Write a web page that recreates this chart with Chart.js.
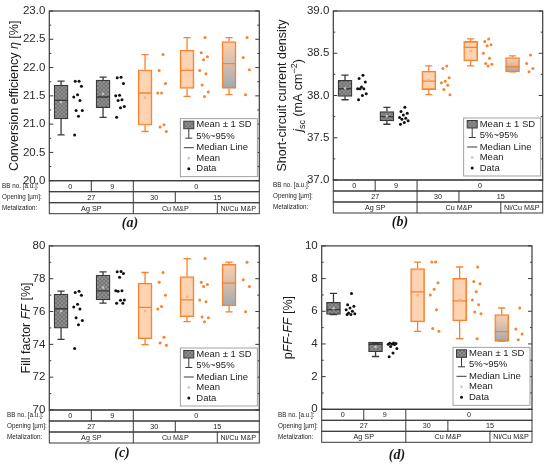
<!DOCTYPE html>
<html>
<head>
<meta charset="utf-8">
<script src="https://cdn.jsdelivr.net/npm/chart.js@4.4.0/dist/chart.umd.min.js"></script>
<style>
  body { margin: 0; background: #fff; width: 553px; height: 469px; position: relative; overflow: hidden; }
  canvas { position: absolute; }
</style>
</head>
<body>
<canvas id="chartA" style="left:0;top:0" width="276" height="235"></canvas>
<canvas id="chartB" style="left:270px;top:0" width="283" height="235"></canvas>
<canvas id="chartC" style="left:0;top:235px" width="276" height="234"></canvas>
<canvas id="chartD" style="left:276px;top:235px" width="277" height="234"></canvas>
<script>
// groups, left to right: Ag SP BB0, Ag SP BB9, Cu M&P 30 µm, Cu M&P 15 µm, Ni/Cu M&P 15 µm
const groups = ['Ag SP 0', 'Ag SP 9', 'Cu M&P 30', 'Cu M&P 15', 'Ni/Cu M&P 15'];

// (a) conversion efficiency
const etaMean = [21.39, 21.535, 21.47, 21.97, 22.045];
const etaSd = [0.30, 0.245, 0.49, 0.34, 0.415];
const etaMedian = [21.42, 21.48, 21.55, 21.95, 22.07];
const etaP5 = [20.81, 21.12, 20.87, 21.49, 21.52];
const etaP95 = [21.76, 21.83, 22.23, 22.53, 22.53];
const etaData = [
  [21.76, 21.76, 21.67, 21.52, 21.48, 21.42, 21.24, 21.24, 21.14, 20.81],
  [21.83, 21.82, 21.72, 21.51, 21.50, 21.43, 21.42, 21.31, 21.29, 21.12],
  [22.23, 21.95, 21.72, 21.55, 21.55, 20.99, 20.95, 20.87],
  [22.53, 22.26, 22.19, 22.14, 21.95, 21.89, 21.69, 21.57, 21.49],
  [22.53, 22.18, 21.96, 21.52]
];
const etaTicks = [20.0, 20.5, 21.0, 21.5, 22.0, 22.5, 23.0];

// (b) short-circuit current density
const jscMean = [38.085, 37.755, 38.18, 38.525, 38.365];
const jscSd = [0.095, 0.055, 0.11, 0.115, 0.085];
const jscMedian = [38.08, 37.75, 38.17, 38.57, 38.34];
const jscP5 = [37.95, 37.66, 38.01, 38.35, 38.28];
const jscP95 = [38.24, 37.86, 38.35, 38.67, 38.47];
const jscData = [
  [38.24, 38.20, 38.16, 38.10, 38.08, 38.08, 38.08, 38.02, 38.00, 37.95],
  [37.86, 37.81, 37.79, 37.77, 37.74, 37.73, 37.72, 37.70, 37.68, 37.66],
  [38.35, 38.32, 38.21, 38.17, 38.15, 38.12, 38.07, 38.01],
  [38.67, 38.64, 38.60, 38.59, 38.50, 38.44, 38.38, 38.37, 38.35],
  [38.48, 38.38, 38.32, 38.28]
];
const jscTicks = [37.0, 37.5, 38.0, 38.5, 39.0];

// (c) fill factor
const ffMean = [76.025, 77.465, 76.035, 76.905, 77.615];
const ffSd = [1.035, 0.755, 1.695, 1.225, 1.265];
const ffMedian = [76.17, 77.26, 76.25, 76.71, 77.73];
const ffP5 = [74.30, 76.51, 73.98, 75.38, 75.98];
const ffP95 = [77.24, 78.42, 78.38, 79.23, 79.01];
const ffData = [
  [77.24, 77.16, 77.00, 76.45, 76.27, 76.15, 75.62, 75.46, 75.19, 73.75],
  [78.44, 78.42, 78.32, 78.09, 77.26, 77.26, 77.24, 76.71, 76.69, 76.51, 76.51],
  [78.38, 77.79, 77.00, 76.31, 76.15, 74.44, 74.08, 73.94],
  [79.23, 77.79, 77.65, 77.53, 76.71, 76.60, 75.66, 75.62, 75.38],
  [79.01, 77.93, 77.53, 75.98]
];
const ffTicks = [70, 72, 74, 76, 78, 80];

// (d) pFF - FF
const dffMean = [6.175, 3.82, 6.98, 6.715, 4.98];
const dffSd = [0.375, 0.30, 1.63, 1.305, 0.82];
const dffMedian = [6.10, 3.98, 7.19, 6.63, 4.75];
const dffP5 = [5.80, 3.23, 4.77, 4.32, 4.16];
const dffP95 = [7.09, 4.06, 9.01, 8.71, 6.20];
const dffData = [
  [7.09, 6.40, 6.30, 6.20, 6.10, 6.00, 5.90, 5.85, 5.80, 5.80],
  [4.06, 4.04, 4.02, 4.00, 3.98, 3.96, 3.85, 3.72, 3.45, 3.22],
  [9.01, 9.01, 7.74, 7.35, 6.99, 6.10, 4.95, 4.77],
  [8.71, 7.82, 7.68, 7.19, 6.69, 6.40, 5.96, 5.84, 4.32],
  [6.20, 4.91, 4.61, 4.26]
];
const dffTicks = [0, 2, 4, 6, 8, 10];

// table under each plot
const rowLabels = ['BB no. [a.u.]:', 'Opening [µm]:', 'Metalization:'];
const bbNo = ['0', '9', '0'];
const bbSpan = [1, 1, 3];
const openings = ['27', '30', '15'];
const openSpan = [2, 1, 2];
const metals = ['Ag SP', 'Cu M&P', 'Ni/Cu M&P'];
const metalSpan = [2, 2, 1];

const legendItems = ['Mean \u00b1 1 SD', '5%~95%', 'Median Line', 'Mean', 'Data'];

const SANS = '"Liberation Sans", Arial, sans-serif';
const SERIF = '"Liberation Serif", "Times New Roman", serif';
const DARK = '#3a3a3a';
const ORANGE = '#f7822f';
const PEACH = 'rgba(252, 196, 152, 0.75)';

// gray cross-hatched fill like the original
function hatch() {
  const c = document.createElement('canvas');
  c.width = 4; c.height = 4;
  const g = c.getContext('2d');
  g.fillStyle = '#8e8e8e';
  g.fillRect(0, 0, 4, 4);
  g.strokeStyle = '#6f6f6f';
  g.lineWidth = 0.8;
  g.beginPath();
  g.moveTo(0, 0); g.lineTo(4, 4);
  g.moveTo(4, 0); g.lineTo(0, 4);
  g.stroke();
  return g.createPattern(c, 'repeat');
}
const grayFill = hatch();

const isCu = i => i >= 2;
const BOX_C = 0.28, PTS_C = 0.68;
const jitter = k => 0.12 * (((k * 0.618034) % 1) * 2 - 1);

function richText(ctx, segs, x, y, size) {
  const fontFor = s => (s.i ? 'italic ' : '') + ((s.sub || s.sup) ? size * 0.72 : size) + 'px ' + SANS;
  let w = 0;
  segs.forEach(s => { ctx.font = fontFor(s); s.w = ctx.measureText(s.t).width; w += s.w; });
  ctx.save();
  ctx.translate(x, y);
  ctx.rotate(-Math.PI / 2);
  ctx.textAlign = 'left';
  ctx.textBaseline = 'middle';
  let cx = -w / 2;
  segs.forEach(s => {
    ctx.font = fontFor(s);
    const dy = s.sub ? size * 0.3 : s.sup ? -size * 0.38 : 0;
    ctx.fillText(s.t, cx, dy);
    cx += s.w;
  });
  ctx.restore();
}

const decor = {
  id: 'decor',
  afterDatasetsDraw(chart, args, o) {
    const ctx = chart.ctx;
    const a = chart.chartArea;
    const y = chart.scales.y, x = chart.scales.x;
    ctx.save();
    ctx.fillStyle = '#222';
    ctx.strokeStyle = DARK;

    // inward ticks, major and minor, on both sides
    ctx.lineWidth = 1;
    ctx.beginPath();
    o.ticks.forEach((v, k) => {
      const py = y.getPixelForValue(v);
      ctx.moveTo(a.left, py); ctx.lineTo(a.left + 4, py);
      ctx.moveTo(a.right, py); ctx.lineTo(a.right - 4, py);
      if (k > 0) {
        const my = y.getPixelForValue((v + o.ticks[k - 1]) / 2);
        ctx.moveTo(a.left, my); ctx.lineTo(a.left + 2, my);
        ctx.moveTo(a.right, my); ctx.lineTo(a.right - 2, my);
      }
    });
    ctx.stroke();
    ctx.lineWidth = 1.2;
    ctx.strokeRect(a.left, a.top, a.right - a.left, a.bottom - a.top);

    // legend box in the lower right corner
    const lw = 77, lh = 58;
    const lx = a.right - 2 - lw, ly = a.bottom - 4 - lh;
    ctx.fillStyle = '#fff';
    ctx.fillRect(lx, ly, lw, lh);
    ctx.lineWidth = 0.8;
    ctx.strokeStyle = '#8a8a8a';
    ctx.strokeRect(lx, ly, lw, lh);
    const rows = [6, 17.5, 29, 39.5, 50];
    const sx = lx + 3.5, sc = lx + 8.5;
    ctx.fillStyle = grayFill;
    ctx.fillRect(sx, ly + 2.5, 10, 7.5);
    ctx.strokeStyle = DARK;
    ctx.lineWidth = 1;
    ctx.strokeRect(sx, ly + 2.5, 10, 7.5);
    ctx.beginPath();
    ctx.moveTo(sc, ly + 10); ctx.lineTo(sc, ly + rows[1] + 2);
    ctx.moveTo(sc - 3.5, ly + rows[1] + 2); ctx.lineTo(sc + 3.5, ly + rows[1] + 2);
    ctx.moveTo(sx, ly + rows[2]); ctx.lineTo(sx + 10, ly + rows[2]);
    ctx.stroke();
    ctx.fillStyle = '#cfcfcf';
    ctx.fillRect(sc - 1.3, ly + rows[3] - 1.3, 2.6, 2.6);
    ctx.fillStyle = '#111';
    ctx.beginPath();
    ctx.arc(sc, ly + rows[4], 1.5, 0, Math.PI * 2);
    ctx.fill();
    ctx.font = '9.5px ' + SANS;
    ctx.textAlign = 'left';
    ctx.textBaseline = 'middle';
    ctx.fillStyle = '#222';
    legendItems.forEach((t, k) => ctx.fillText(t, lx + 16, ly + rows[k]));

    // table of process parameters
    const table = [[bbNo, bbSpan], [openings, openSpan], [metals, metalSpan]];
    const rh = 11;
    ctx.strokeStyle = DARK;
    ctx.lineWidth = 1;
    table.forEach(([cells, span], r) => {
      const y0 = a.bottom + r * rh, y1 = y0 + rh;
      ctx.strokeRect(a.left, y0, a.right - a.left, rh);
      let g = 0;
      cells.forEach((t, j) => {
        const x0 = x.getPixelForValue(g), x1 = x.getPixelForValue(g + span[j]);
        if (j > 0) {
          ctx.beginPath(); ctx.moveTo(x0, y0); ctx.lineTo(x0, y1); ctx.stroke();
        }
        ctx.font = '7.2px ' + SANS;
        ctx.textAlign = 'center';
        ctx.fillText(t, (x0 + x1) / 2, (y0 + y1) / 2 + 0.5);
        g += span[j];
      });
      ctx.font = '6.3px ' + SANS;
      ctx.textAlign = 'left';
      ctx.fillText(rowLabels[r], o.rowLabelX, (y0 + y1) / 2);
    });

    // axis title and panel letter
    ctx.fillStyle = '#1a1a1a';
    o.title.forEach((segs, k) => richText(ctx, segs, o.titleX[k], (a.top + a.bottom) / 2, 12.5));
    ctx.font = 'italic bold 14px ' + SERIF;
    ctx.textAlign = 'center';
    ctx.textBaseline = 'middle';
    ctx.fillText(o.label, o.labelX, o.labelY);
    ctx.restore();
  }
};

function makeChart(id, s) {
  const cv = document.getElementById(id);
  const W = cv.width, H = cv.height;
  const boxes = groups.map((g, i) => ({ x: i + BOX_C, y: [s.mean[i] - s.sd[i], s.mean[i] + s.sd[i]] }));

  // whiskers with caps, and the median line, one dataset per box
  const frames = groups.map((g, i) => {
    const c = i + BOX_C;
    const hi = s.mean[i] + s.sd[i], lo = s.mean[i] - s.sd[i];
    return {
      type: 'line',
      data: [
        { x: c, y: hi }, { x: c, y: s.p95[i] }, { x: c - 0.085, y: s.p95[i] }, { x: c + 0.085, y: s.p95[i] }, { x: c, y: null },
        { x: c, y: lo }, { x: c, y: s.p5[i] }, { x: c - 0.085, y: s.p5[i] }, { x: c + 0.085, y: s.p5[i] }, { x: c, y: null },
        { x: c - 0.165, y: s.median[i] }, { x: c + 0.165, y: s.median[i] }
      ],
      borderColor: isCu(i) ? ORANGE : DARK,
      borderWidth: 1.3,
      pointRadius: 0,
      spanGaps: false,
      order: 2
    };
  });

  const pts = [], ptColors = [];
  s.data.forEach((vals, i) => vals.forEach((v, k) => {
    pts.push({ x: i + PTS_C + jitter(k + 1), y: v });
    ptColors.push(isCu(i) ? ORANGE : '#111');
  }));

  return new Chart(cv, {
    type: 'scatter',
    data: {
      datasets: [
        {
          type: 'bar',
          data: boxes,
          barThickness: 14,
          borderWidth: 1.3,
          borderSkipped: false,
          borderColor: groups.map((g, i) => isCu(i) ? ORANGE : DARK),
          backgroundColor(c) {
            const i = c.dataIndex;
            if (i === undefined) return PEACH;
            if (!isCu(i)) return grayFill;
            if (i === 4) {
              const ys = c.chart.scales.y;
              if (!ys) return PEACH;
              const grad = c.chart.ctx.createLinearGradient(0, ys.getPixelForValue(boxes[i].y[1]), 0, ys.getPixelForValue(boxes[i].y[0]));
              grad.addColorStop(0, 'rgba(252, 196, 152, 0.8)');
              grad.addColorStop(1, 'rgba(150, 160, 168, 0.9)');
              return grad;
            }
            return PEACH;
          },
          order: 3
        },
        ...frames,
        {
          data: groups.map((g, i) => ({ x: i + BOX_C, y: s.mean[i] })),
          pointStyle: 'rect',
          pointRadius: 1.6,
          borderWidth: 0,
          backgroundColor: groups.map((g, i) => isCu(i) ? '#f6b184' : '#c4c4c4'),
          order: 1
        },
        {
          data: pts,
          pointRadius: 1.5,
          borderWidth: 0,
          backgroundColor: ptColors,
          order: 1
        }
      ]
    },
    options: {
      responsive: false,
      animation: false,
      events: [],
      layout: { padding: { left: 0, right: W - s.area.r, top: s.area.t, bottom: H - s.area.b } },
      plugins: {
        legend: { display: false },
        tooltip: { enabled: false },
        decor: s.decor
      },
      scales: {
        x: { type: 'linear', min: 0, max: 5, offset: false, display: false },
        y: {
          min: s.ticks[0],
          max: s.ticks[s.ticks.length - 1],
          afterFit(sc) { sc.width = s.area.l; },
          afterBuildTicks(sc) { sc.ticks = s.ticks.map(v => ({ value: v })); },
          ticks: {
            padding: 4,
            color: '#2a2a2a',
            font: { family: SANS, size: 11.5 },
            callback: v => v.toFixed(s.dec)
          },
          grid: { display: false, drawTicks: false },
          border: { display: false }
        }
      }
    },
    plugins: [decor]
  });
}

makeChart('chartA', {
  mean: etaMean, sd: etaSd, median: etaMedian, p5: etaP5, p95: etaP95, data: etaData,
  ticks: etaTicks, dec: 1,
  area: { l: 49.3, r: 259.3, t: 11, b: 180.7 },
  decor: {
    ticks: etaTicks, rowLabelX: 2, label: '(a)', labelX: 130, labelY: 223,
    title: [[{ t: 'Conversion efficiency ' }, { t: '\u03b7', i: true }, { t: ' [%]' }]],
    titleX: [15]
  }
});

makeChart('chartB', {
  mean: jscMean, sd: jscSd, median: jscMedian, p5: jscP5, p95: jscP95, data: jscData,
  ticks: jscTicks, dec: 1,
  area: { l: 63.3, r: 272.7, t: 11, b: 180 },
  decor: {
    ticks: jscTicks, rowLabelX: 3, label: '(b)', labelX: 130, labelY: 222,
    title: [
      [{ t: 'Short-circuit current density' }],
      [{ t: 'j', i: true }, { t: 'sc', sub: true }, { t: ' (mA cm' }, { t: '\u22122', sup: true }, { t: ')' }]
    ],
    titleX: [13, 29]
  }
});

makeChart('chartC', {
  mean: ffMean, sd: ffSd, median: ffMedian, p5: ffP5, p95: ffP95, data: ffData,
  ticks: ffTicks, dec: 0,
  area: { l: 49.3, r: 259.3, t: 6, b: 175 },
  decor: {
    ticks: ffTicks, rowLabelX: 7, label: '(c)', labelX: 122, labelY: 218,
    title: [[{ t: 'Fill factor ' }, { t: 'FF', i: true }, { t: ' [%]' }]],
    titleX: [27]
  }
});

makeChart('chartD', {
  mean: dffMean, sd: dffSd, median: dffMedian, p5: dffP5, p95: dffP95, data: dffData,
  ticks: dffTicks, dec: 0,
  area: { l: 45.7, r: 256, t: 6, b: 174.3 },
  decor: {
    ticks: dffTicks, rowLabelX: 2, label: '(d)', labelX: 121, labelY: 220,
    title: [[{ t: 'p' }, { t: 'FF', i: true }, { t: '-' }, { t: 'FF', i: true }, { t: ' [%]' }]],
    titleX: [12.5]
  }
});
</script>
</body>
</html>
